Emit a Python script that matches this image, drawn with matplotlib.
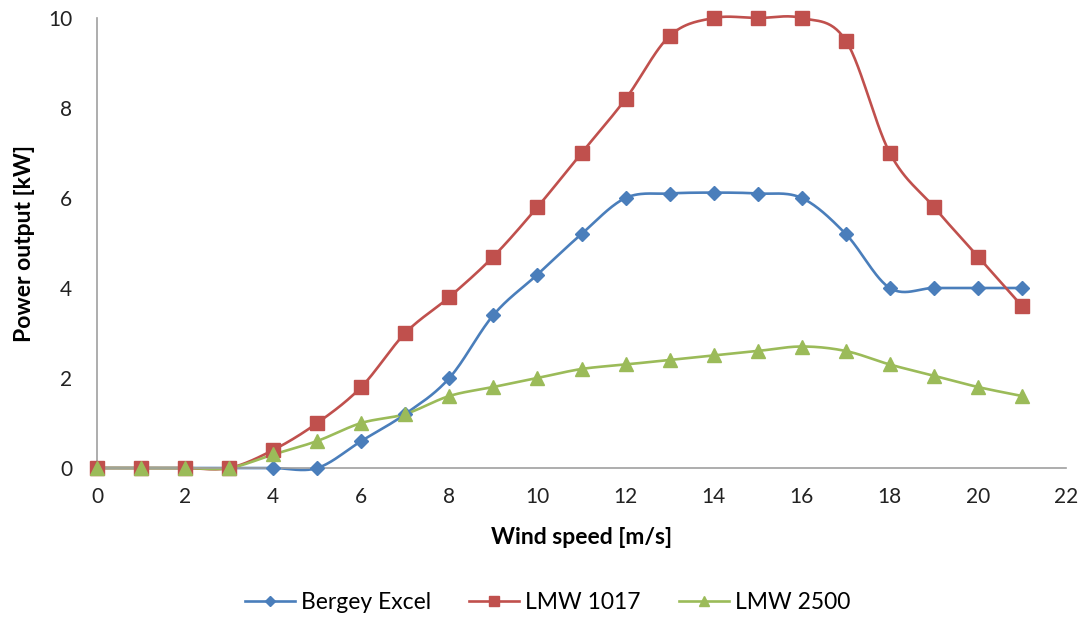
import numpy as np
import matplotlib.pyplot as plt
from matplotlib.lines import Line2D

# Data
wind_speed = list(range(0, 22))
bergey = [0, 0, 0, 0, 0, 0, 0.6, 1.2, 2.0, 3.4, 4.3, 5.2, 6.0, 6.1, 6.12, 6.1, 6.0, 5.2, 4.0, 4.0, 4.0, 4.0]
lmw1017 = [0, 0, 0, 0, 0.4, 1.0, 1.8, 3.0, 3.8, 4.7, 5.8, 7.0, 8.2, 9.6, 10.0, 10.0, 10.0, 9.5, 7.0, 5.8, 4.7, 3.6]
lmw2500 = [0, 0, 0, 0, 0.3, 0.6, 1.0, 1.2, 1.6, 1.8, 2.0, 2.2, 2.3, 2.4, 2.5, 2.6, 2.7, 2.6, 2.3, 2.05, 1.8, 1.6]

series = [
    ('Bergey Excel', bergey, '#4A7EBB', 'D', 7),
    ('LMW 1017', lmw1017, '#C0504D', 's', 10),
    ('LMW 2500', lmw2500, '#9BBB59', '^', 10),
]

plt.rcParams['font.family'] = ['Lato', 'DejaVu Sans']


def smooth(x, y, n=30):
    # Catmull-Rom style curve through the points, like Excel's smoothed line
    x = np.asarray(x, float)
    y = np.asarray(y, float)
    px = np.concatenate([[x[0]], x, [x[-1]]])
    py = np.concatenate([[y[0]], y, [y[-1]]])
    xs, ys = [], []
    t = np.linspace(0, 1, n)
    for i in range(1, len(px) - 2):
        p0, p1, p2, p3 = (np.array([px[j], py[j]]) for j in (i - 1, i, i + 1, i + 2))
        c1 = p1 + (p2 - p0) / 6
        c2 = p2 - (p3 - p1) / 6
        pts = ((1 - t) ** 3)[:, None] * p1 + (3 * (1 - t) ** 2 * t)[:, None] * c1 \
            + (3 * (1 - t) * t ** 2)[:, None] * c2 + (t ** 3)[:, None] * p2
        xs.extend(pts[:, 0])
        ys.extend(pts[:, 1])
    return xs, ys


fig = plt.figure(figsize=(10.84, 6.17), dpi=100)
ax = fig.add_axes([0.0895, 0.2415, 0.8939, 0.7293])

handles = []
for name, vals, color, marker, ms in series:
    sx, sy = smooth(wind_speed, vals)
    ax.plot(sx, sy, color=color, lw=1.9, clip_on=False, zorder=2)
    ax.plot(wind_speed, vals, linestyle='none', marker=marker, markersize=ms,
            color=color, clip_on=False, zorder=3)
    handles.append(Line2D([0], [0], color=color, lw=1.9, marker=marker,
                          markersize=ms * 0.75, label=name))

ax.set_xlim(0, 22)
ax.set_ylim(0, 10)
ax.set_xticks(range(0, 23, 2))
ax.set_yticks(range(0, 11, 2))
for s in ['top', 'right']:
    ax.spines[s].set_visible(False)
for s in ['left', 'bottom']:
    ax.spines[s].set_color('#A0A0A0')
    ax.spines[s].set_linewidth(1.2)
ax.tick_params(labelcolor='#222222', labelsize=15, length=0)
ax.tick_params(axis='x', pad=14)
ax.tick_params(axis='y', pad=18)

ax.set_xlabel('Wind speed [m/s]', fontsize=16.5, fontweight='bold', labelpad=14)
ax.set_ylabel('Power output [kW]', fontsize=16.5, fontweight='bold', labelpad=9)

fig.legend(handles=handles, loc='center', bbox_to_anchor=(0.505, 0.023), ncol=3,
           frameon=False, fontsize=16.5, handlelength=2.2, columnspacing=1.65,
           handletextpad=0.26)

fig.savefig('out.png', dpi=100)
